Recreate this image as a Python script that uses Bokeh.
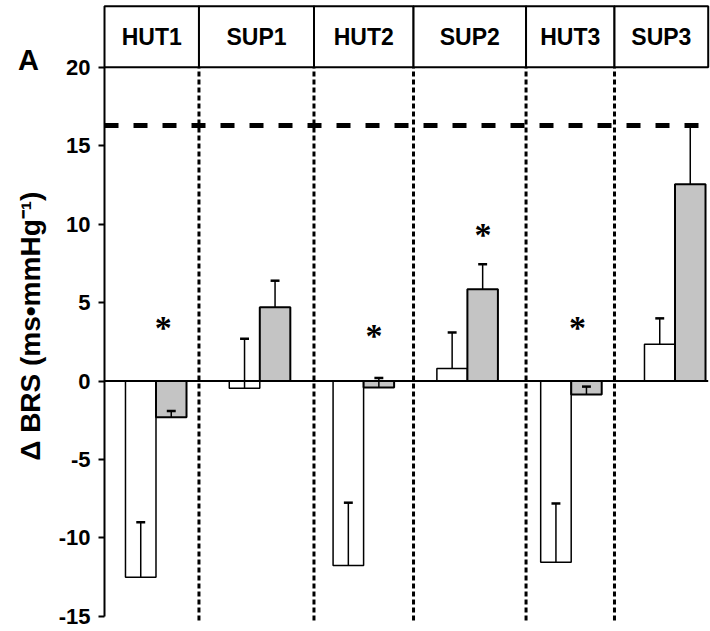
import numpy as np
from bokeh.plotting import figure
from bokeh.models import Range1d, LinearAxis, FixedTicker, PrintfTickFormatter
from bokeh.core.properties import value
from bokeh.embed import file_html
from bokeh.resources import INLINE

# Change in baroreflex sensitivity for each condition (two groups per condition)
conditions = ["HUT1", "SUP1", "HUT2", "SUP2", "HUT3", "SUP3"]
open_mean = [-12.5, -0.45, -11.75, 0.8, -11.55, 2.35]
open_sem = [3.5, 3.15, 4.0, 2.3, 3.75, 1.65]
shaded_mean = [-2.3, 4.7, -0.4, 5.85, -0.85, 12.55]
shaded_sem = [0.4, 1.7, 0.6, 1.6, 0.5, 3.75]
reference_level = 16.3

# significance markers (condition position, height)
star_x = [0.07, 2.1, 3.15, 4.06]
star_y = [3.85, 3.35, 9.8, 3.85]

y_ticks = [-15, -10, -5, 0, 5, 10, 15, 20]

# panel boundaries between condition columns
panel_edges = [-0.496, 0.414, 1.522, 2.481, 3.565, 4.417, 5.32]

FONT = "Liberation Sans"
BAR_W = 0.294
CAP_HALF = 0.043
HEADER_TOP = 23.9
Y_LO, Y_HI = -15.26, 20

# the data area fills the whole canvas; the value axis is pinned at the left panel edge
p = figure(frame_width=710, frame_height=631, min_border=0,
           x_range=Range1d(-1.498, 5.342), y_range=Range1d(-15.96, 24.26),
           x_axis_location=None, y_axis_location=None,
           toolbar_location=None, output_backend="svg")
p.grid.visible = False
p.outline_line_color = None
p.background_fill_color = "white"
p.border_fill_color = "white"

ax = LinearAxis(fixed_location=panel_edges[0])
ax.ticker = FixedTicker(ticks=y_ticks)
ax.formatter = PrintfTickFormatter(format="%d")
ax.bounds = (-15, 20)
ax.axis_line_width = 2
ax.major_tick_line_width = 2
ax.major_tick_out = 6
ax.major_tick_in = 0
ax.minor_tick_out = 0
ax.minor_tick_in = 0
ax.major_label_standoff = 8
ax.major_label_text_font = FONT
ax.major_label_text_font_style = "bold"
ax.major_label_text_font_size = "22px"
ax.major_label_text_color = "black"
p.add_layout(ax, "left")

idx = np.arange(len(conditions))
xo = idx - BAR_W / 2
xs = idx + BAR_W / 2
x_left, x_right = panel_edges[0], panel_edges[-1]

# dotted column separators
p.segment(x0=panel_edges[1:-1], y0=Y_LO, x1=panel_edges[1:-1], y1=Y_HI,
          line_color="black", line_width=3, line_dash="5 3")

# header strip with condition names
p.quad(left=panel_edges[:-1], right=panel_edges[1:], bottom=Y_HI, top=HEADER_TOP,
       fill_color="white", line_color="black", line_width=2)
centers = [(a + b) / 2 for a, b in zip(panel_edges[:-1], panel_edges[1:])]
p.text(x=centers, y=(Y_HI + HEADER_TOP) / 2, text=conditions,
       text_font=value(FONT), text_font_style="bold", text_font_size="23px",
       text_align="center", text_baseline="middle", text_color="black")

# bars
p.vbar(x=xo, width=BAR_W, top=open_mean, bottom=0,
       fill_color="white", line_color="black", line_width=1.5)
p.vbar(x=xs, width=BAR_W, top=shaded_mean, bottom=0,
       fill_color="#c4c4c4", line_color="black", line_width=2)

# one-sided error bars
o_top = np.array(open_mean) + np.array(open_sem)
s_top = np.array(shaded_mean) + np.array(shaded_sem)
p.segment(x0=xo, y0=open_mean, x1=xo, y1=o_top, line_color="black", line_width=1.5)
p.segment(x0=xo - CAP_HALF, y0=o_top, x1=xo + CAP_HALF, y1=o_top,
          line_color="black", line_width=2.5)
p.segment(x0=xs, y0=shaded_mean, x1=xs, y1=s_top, line_color="black", line_width=1.5)
p.segment(x0=xs - CAP_HALF, y0=s_top, x1=xs + CAP_HALF, y1=s_top,
          line_color="black", line_width=2.5)

# zero line and reference level
p.segment(x0=[x_left], y0=[0], x1=[x_right], y1=[0], line_color="black", line_width=2)
p.segment(x0=[x_left], y0=[reference_level], x1=[x_right], y1=[reference_level],
          line_color="black", line_width=5, line_dash="14 15")

# significance asterisks
p.text(x=star_x, y=star_y, text=["*"] * len(star_x),
       text_font=value("Liberation Serif"), text_font_style="bold",
       text_font_size="34px", text_align="center", text_baseline="middle",
       y_offset=7, text_color="black")

# panel letter and axis title
p.text(x=[-1.228], y=[20.45], text=["A"], text_font=value(FONT),
       text_font_style="bold", text_font_size="29px",
       text_align="center", text_baseline="middle", text_color="black")
p.text(x=[-1.21], y=[3.5], text=["\u0394 BRS (ms\u2022mmHg\u207b\u00b9)"],
       angle=np.pi / 2, text_font=value(FONT), text_font_style="bold",
       text_font_size="28px", text_align="center", text_baseline="middle",
       text_color="black")

open("out.html", "w").write(file_html(p, INLINE))
